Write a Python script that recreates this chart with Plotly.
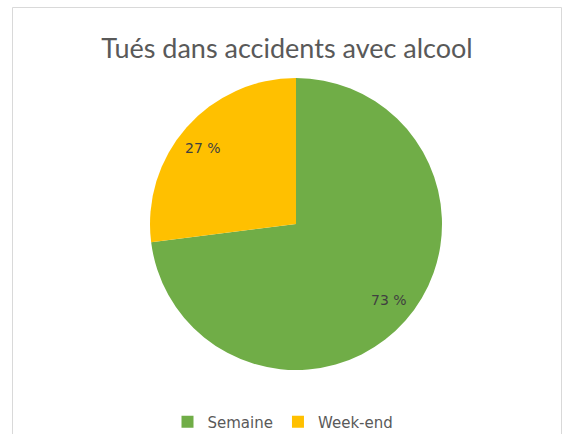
import math
import plotly.graph_objects as go

categories = ["Semaine", "Week-end"]
values = [73, 27]
colors = ["#70AD47", "#FFC000"]
title_text = "Tués dans accidents avec alcool"

W, H = 563, 434
ML, MR, MT, MB = 150, 121, 78, 64
PW, PH = W - ML - MR, H - MT - MB

def px_to_paper_x(px):
    return (px - ML) / PW

def py_to_paper_y(py):
    return 1 - (py - MT) / PH

fig = go.Figure(go.Pie(
    labels=categories,
    values=values,
    marker=dict(colors=colors, line=dict(width=0)),
    sort=False,
    direction="clockwise",
    rotation=0,
    textinfo="none",
    hoverinfo="label+percent",
    domain=dict(x=[0, 1], y=[0, 1]),
))

# data labels at slice mid-angles
total = sum(values)
annotations = []
cum = 0
for v in values:
    mid = (cum + v / 2) / total * 2 * math.pi
    cum += v
    ax = 0.5 + 0.5 * 0.85 * math.sin(mid)
    ay = 0.5 + 0.5 * 0.79 * math.cos(mid)
    annotations.append(dict(
        x=ax, y=ay, xref="paper", yref="paper",
        text=f"{round(v / total * 100)} %", showarrow=False,
        font=dict(family="DejaVu Sans", size=14, color="#404040"),
        xanchor="center", yanchor="middle",
    ))

fig.update_layout(
    width=W, height=H,
    margin=dict(l=ML, r=MR, t=MT, b=MB, autoexpand=False),
    paper_bgcolor="white",
    plot_bgcolor="white",
    title=dict(
        text=title_text,
        x=287 / W, xanchor="center",
        y=1 - 49 / H, yanchor="middle",
        font=dict(family="Lato", size=27, color="#595959"),
    ),
    showlegend=True,
    legend=dict(
        orientation="h",
        x=283 / W, xref="container", xanchor="center",
        y=1 - 422 / H, yref="container", yanchor="middle",
        font=dict(family="DejaVu Sans", size=15, color="#595959"),
        itemclick=False,
    ),
    annotations=annotations,
    shapes=[dict(
        type="rect", xref="paper", yref="paper",
        x0=px_to_paper_x(12.5), x1=px_to_paper_x(561.5),
        y0=py_to_paper_y(445), y1=py_to_paper_y(7.5),
        line=dict(color="#D9D9D9", width=1),
        fillcolor="rgba(0,0,0,0)",
        layer="below",
    )],
)

fig.write_html(
    "out.html",
    config={"displayModeBar": False},
    post_script="document.body.style.margin='0';document.body.style.overflow='hidden';",
)
